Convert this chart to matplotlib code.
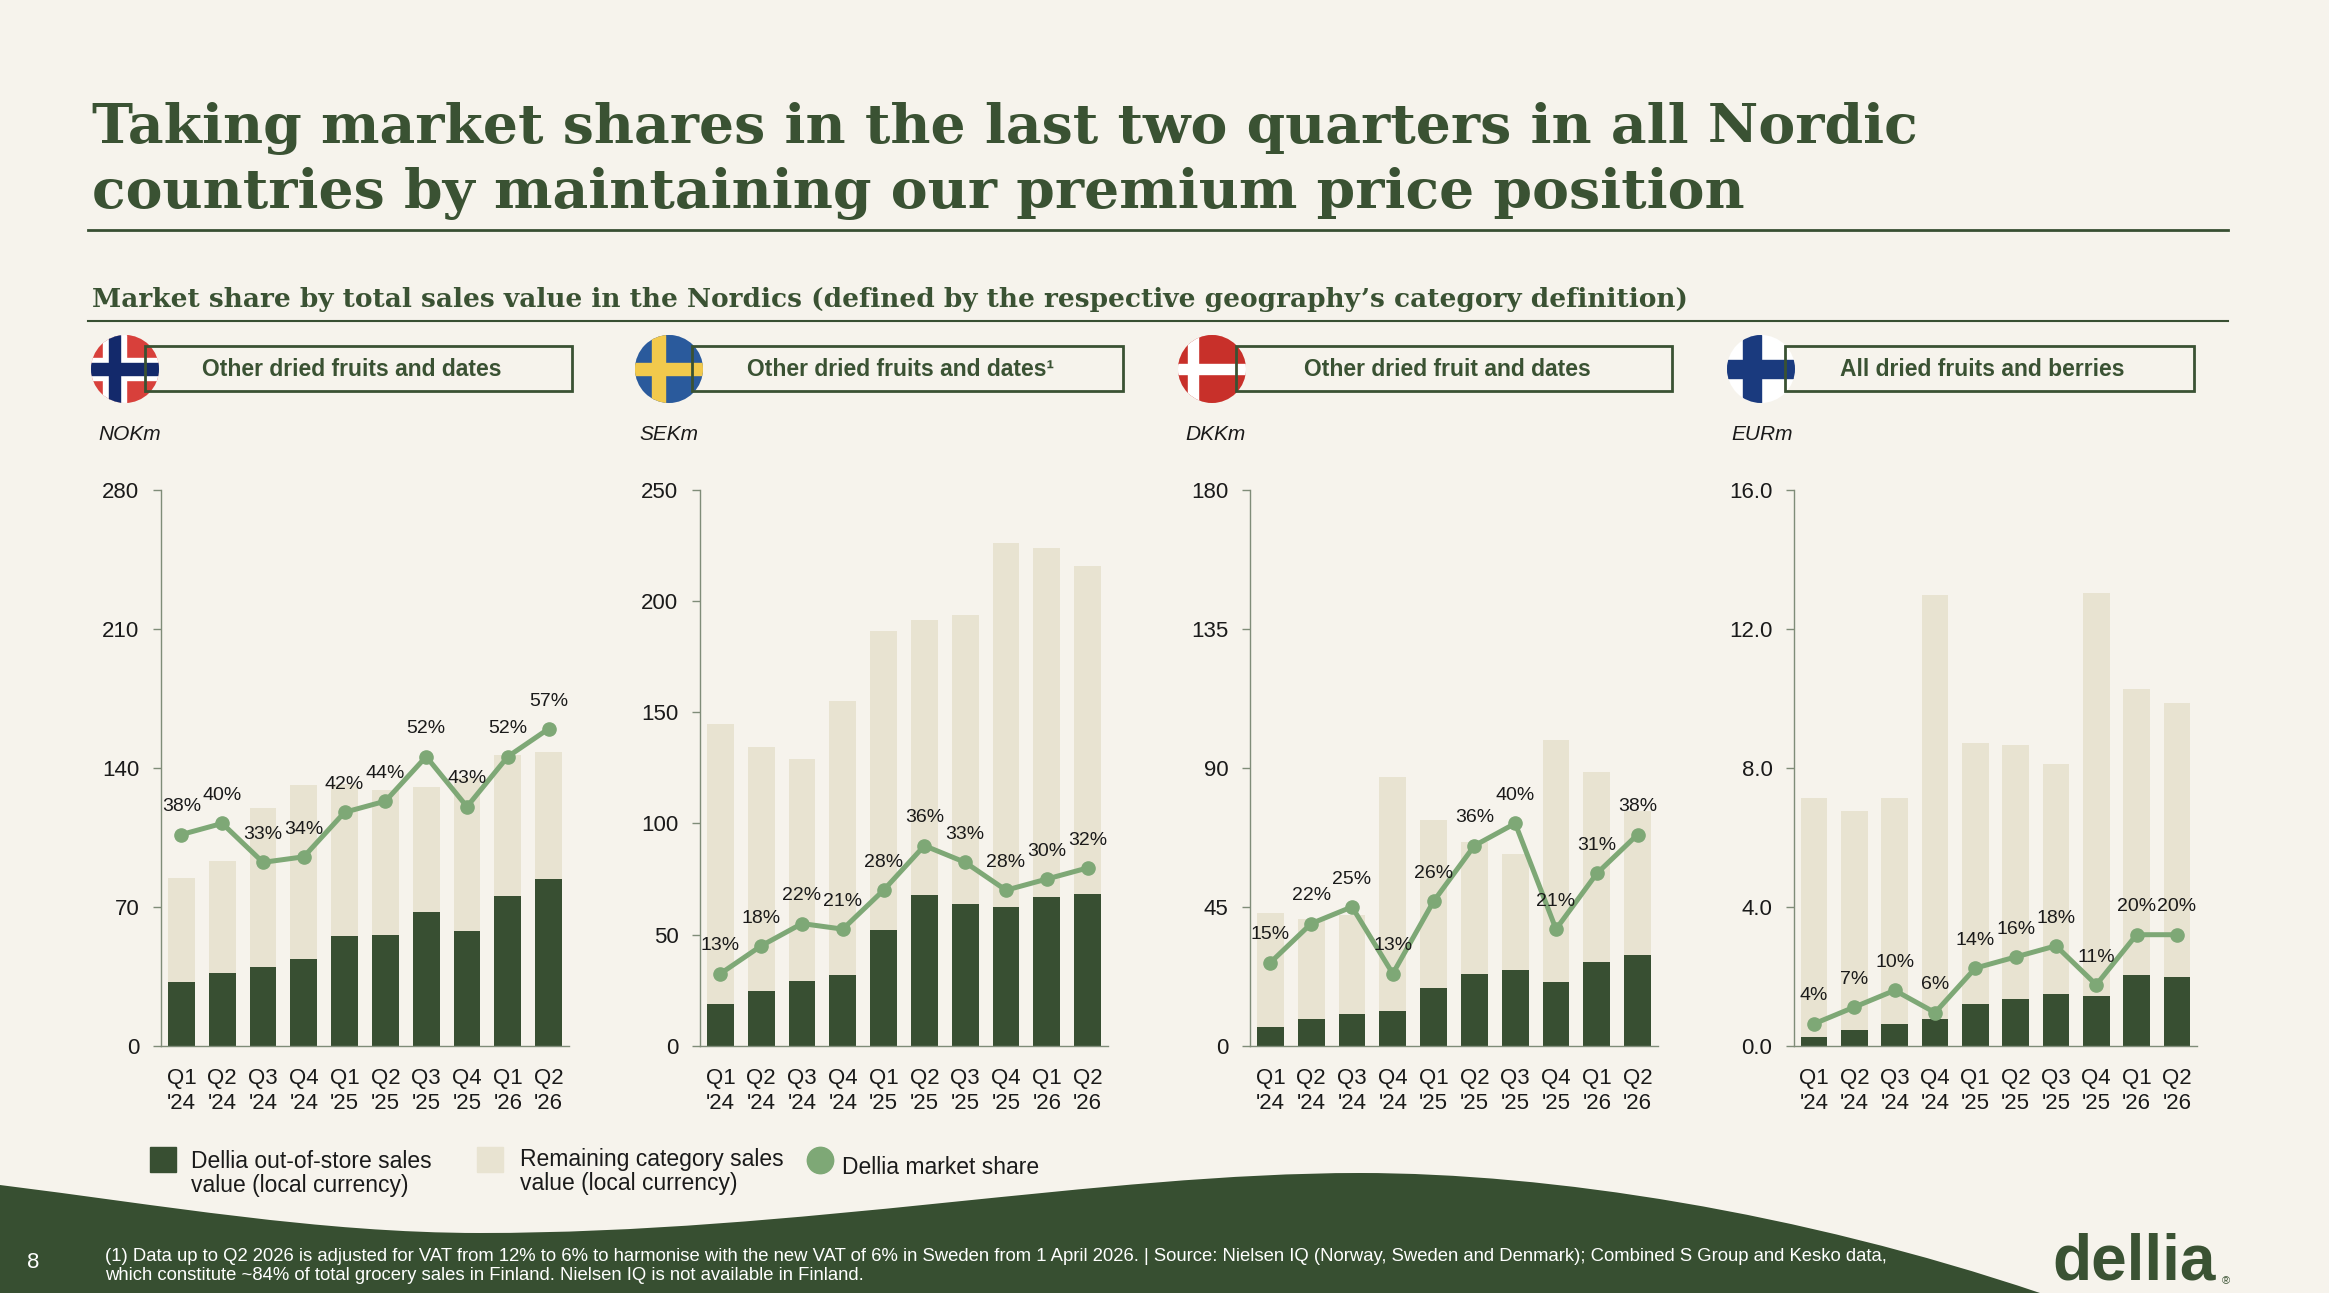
import matplotlib.pyplot as plt
from matplotlib.patches import Rectangle, Circle, PathPatch
from matplotlib.path import Path
from matplotlib.lines import Line2D

W, H = 2329, 1293
BG = '#f6f3ec'
DARK = '#384f32'
LIGHT = '#e8e3d1'
GREEN = '#7ea876'
TEXT = '#3a5233'
SANS = ['Liberation Sans', 'DejaVu Sans']
SERIF = ['DejaVu Serif', 'Liberation Serif']

plt.rcParams['font.family'] = SANS

quarters = ["Q1\n'24", "Q2\n'24", "Q3\n'24", "Q4\n'24", "Q1\n'25",
            "Q2\n'25", "Q3\n'25", "Q4\n'25", "Q1\n'26", "Q2\n'26"]

# Norway (NOKm)
nok_dellia = [32, 36.5, 39.5, 44, 55.5, 56, 67.5, 58, 75.5, 84]
nok_remaining = [52.5, 56.5, 80, 87.5, 76.5, 73, 63, 77, 71, 64]
nok_share = [38, 40, 33, 34, 42, 44, 52, 43, 52, 57]
nok_ticks = [0, 70, 140, 210, 280]

# Sweden (SEKm)
sek_dellia = [19, 24.5, 29, 32, 52, 68, 64, 62.5, 67, 68.5]
sek_remaining = [125.5, 110, 100, 123, 134.5, 123.5, 129.5, 163.5, 156.5, 147]
sek_share = [13, 18, 22, 21, 28, 36, 33, 28, 30, 32]
sek_ticks = [0, 50, 100, 150, 200, 250]

# Denmark (DKKm)
dkk_dellia = [6.3, 8.6, 10.5, 11.2, 18.8, 23.3, 24.7, 20.6, 27.3, 29.3]
dkk_remaining = [36.7, 32.4, 32, 75.8, 54.2, 42.7, 37.3, 78.4, 61.2, 46.7]
dkk_share = [15, 22, 25, 13, 26, 36, 40, 21, 31, 38]
dkk_ticks = [0, 45, 90, 135, 180]

# Finland (EURm)
eur_dellia = [0.27, 0.45, 0.64, 0.77, 1.22, 1.35, 1.5, 1.43, 2.03, 1.99]
eur_remaining = [6.87, 6.3, 6.5, 12.21, 7.48, 7.3, 6.62, 11.59, 8.24, 7.87]
eur_share = [4, 7, 10, 6, 14, 16, 18, 11, 20, 20]
eur_ticks = [0, 4, 8, 12, 16]

categories = ['Other dried fruits and dates', 'Other dried fruits and dates\u00b9',
              'Other dried fruit and dates', 'All dried fruits and berries']
units = ['NOKm', 'SEKm', 'DKKm', 'EURm']


def fx(x):
    return x / W


def fy(y):
    return 1 - y / H


def draw_flag(cx, cy, bg, crosses, vx=-0.3):
    r = 34
    fa = fig.add_axes([fx(cx - r), fy(cy + r), 2 * r / W, 2 * r / H])
    fa.set_xlim(-1, 1)
    fa.set_ylim(-1, 1)
    fa.axis('off')
    clip = Circle((0, 0), 1, transform=fa.transData)
    fa.add_patch(Rectangle((-1, -1), 2, 2, color=bg, clip_path=clip))
    for col, w in crosses:
        fa.add_patch(Rectangle((vx - w / 2, -1), w, 2, color=col, clip_path=clip))
        fa.add_patch(Rectangle((-1, -w / 2), 2, w, color=col, clip_path=clip))


fig = plt.figure(figsize=(W / 100, H / 100), dpi=100, facecolor=BG)

# footer wave
verts = [(0, 1185), (160, 1205), (320, 1233), (480, 1233),
         (800, 1233), (1100, 1173), (1360, 1173),
         (1550, 1173), (1800, 1212), (2040, 1293),
         (0, 1293), (0, 1185)]
codes = [Path.MOVETO] + [Path.CURVE4] * 9 + [Path.LINETO, Path.CLOSEPOLY]
wave = Path([(fx(x), fy(y)) for x, y in verts], codes)
fig.add_artist(PathPatch(wave, facecolor='#374f31', edgecolor='none', transform=fig.transFigure, zorder=0))

# headings
fig.text(fx(92), fy(143), 'Taking market shares in the last two quarters in all Nordic',
         family=SERIF, fontweight='bold', fontsize=39.8, color=TEXT, va='baseline')
fig.text(fx(92), fy(208), 'countries by maintaining our premium price position',
         family=SERIF, fontweight='bold', fontsize=39.8, color=TEXT, va='baseline')
fig.add_artist(Line2D([fx(88), fx(2228)], [fy(230), fy(230)], color=DARK, lw=2, transform=fig.transFigure))
fig.text(fx(92), fy(307), 'Market share by total sales value in the Nordics (defined by the respective '
         'geography\u2019s category definition)',
         family=SERIF, fontweight='bold', fontsize=19, color=TEXT, va='baseline')
fig.add_artist(Line2D([fx(88), fx(2228)], [fy(321), fy(321)], color=DARK, lw=1.5, transform=fig.transFigure))

panels = [
    (nok_dellia, nok_remaining, nok_share, nok_ticks, '{:.0f}', (161, 569)),
    (sek_dellia, sek_remaining, sek_share, sek_ticks, '{:.0f}', (700, 1108)),
    (dkk_dellia, dkk_remaining, dkk_share, dkk_ticks, '{:.0f}', (1250, 1658)),
    (eur_dellia, eur_remaining, eur_share, eur_ticks, '{:.1f}', (1794, 2197)),
]
boxes = [(145, 572, 125), (692, 1123, 669), (1236, 1672, 1212), (1785, 2194, 1761)]
unit_x = [98, 639, 1185, 1731]
flags = [
    ('#d8403b', [('white', 0.66), ('#13296b', 0.34)], -0.31),
    ('#2a5a9c', [('#f2c94c', 0.38)], -0.3),
    ('#c8302a', [('white', 0.3)], -0.55),
    ('white', [('#1a3a7e', 0.54)], -0.27),
]

x = list(range(len(quarters)))
for k, (dellia, remaining, share, ticks, fmt, (left, right)) in enumerate(panels):
    ax = fig.add_axes([fx(left), fy(1046), (right - left) / W, (1046 - 489.5) / H])
    ax.set_facecolor('none')
    ax.bar(x, dellia, width=0.66, color=DARK, zorder=2)
    ax.bar(x, remaining, width=0.66, bottom=dellia, color=LIGHT, zorder=2)
    ax.set_xlim(-0.5, 9.5)
    ax.set_ylim(ticks[0], ticks[-1])
    ax.set_yticks(ticks)
    ax.set_yticklabels([fmt.format(t) for t in ticks])
    ax.set_xticks(x)
    ax.set_xticklabels(quarters, linespacing=1.25)
    ax.tick_params(axis='x', length=0, pad=16, labelsize=16, colors='#1a1a1a')
    ax.tick_params(axis='y', length=5.5, width=1, pad=10, labelsize=16, colors='#1a1a1a', color='#7f8c78')
    for s in ['top', 'right']:
        ax.spines[s].set_visible(False)
    for s in ['left', 'bottom']:
        ax.spines[s].set_color('#7f8c78')
        ax.spines[s].set_linewidth(1)

    ax2 = ax.twinx()
    ax2.set_ylim(0, 100)
    ax2.axis('off')
    ax2.plot(x, share, color=GREEN, lw=3.6, marker='o', markersize=9.5, zorder=3)
    for i, s in enumerate(share):
        ax2.annotate(f'{s}%', (i, s), xytext=(0, 20), textcoords='offset points',
                     ha='center', va='center', fontsize=14, color='#1a1a1a')

    b0, b1, cx = boxes[k]
    fig.add_artist(Rectangle((fx(b0), fy(391)), (b1 - b0) / W, 45 / H, fill=False,
                             ec=TEXT, lw=2, transform=fig.transFigure))
    fig.text(fx((b0 + b1) / 2 - 7), fy(369), categories[k], ha='center', va='center',
             fontsize=16.5, fontweight='bold', color=TEXT)
    bg, crosses, vx = flags[k]
    draw_flag(cx, 369, bg, crosses, vx)
    fig.text(fx(unit_x[k]), fy(435), units[k], fontsize=15, style='italic', color='#1a1a1a',
             va='center')

# legend
fig.add_artist(Rectangle((fx(150), fy(1172)), 26 / W, 25 / H, color=DARK, transform=fig.transFigure))
fig.text(fx(191), fy(1150), 'Dellia out-of-store sales\nvalue (local currency)', fontsize=16.5,
         va='top', color='#1a1a1a', linespacing=1.05)
fig.add_artist(Rectangle((fx(477), fy(1172)), 26 / W, 25 / H, color=LIGHT, transform=fig.transFigure))
fig.text(fx(520), fy(1148), 'Remaining category sales\nvalue (local currency)', fontsize=16.5,
         va='top', color='#1a1a1a', linespacing=1.05)
fig.add_artist(Line2D([fx(820)], [fy(1160)], marker='o', markersize=19, color=GREEN,
                      transform=fig.transFigure))
fig.text(fx(842), fy(1167), 'Dellia market share', fontsize=16.5, va='center', color='#1a1a1a')

# footer
fig.text(fx(33), fy(1262), '8', fontsize=16, color='white', va='center', ha='center')
fig.text(fx(105), fy(1266), '(1) Data up to Q2 2026 is adjusted for VAT from 12% to 6% to harmonise with the '
         'new VAT of 6% in Sweden from 1 April 2026. | Source: Nielsen IQ (Norway, Sweden and Denmark); '
         'Combined S Group and Kesko data,\nwhich constitute ~84% of total grocery sales in Finland. '
         'Nielsen IQ is not available in Finland.',
         fontsize=13.3, color='white', va='center', linespacing=1.15)
fig.text(fx(2052), fy(1292), 'dellia', fontsize=46, fontweight='bold', color=TEXT, va='bottom')
fig.text(fx(2222), fy(1284), '\u00ae', fontsize=8, color=TEXT, va='baseline')

fig.savefig('out.png', dpi=100, facecolor=BG)
